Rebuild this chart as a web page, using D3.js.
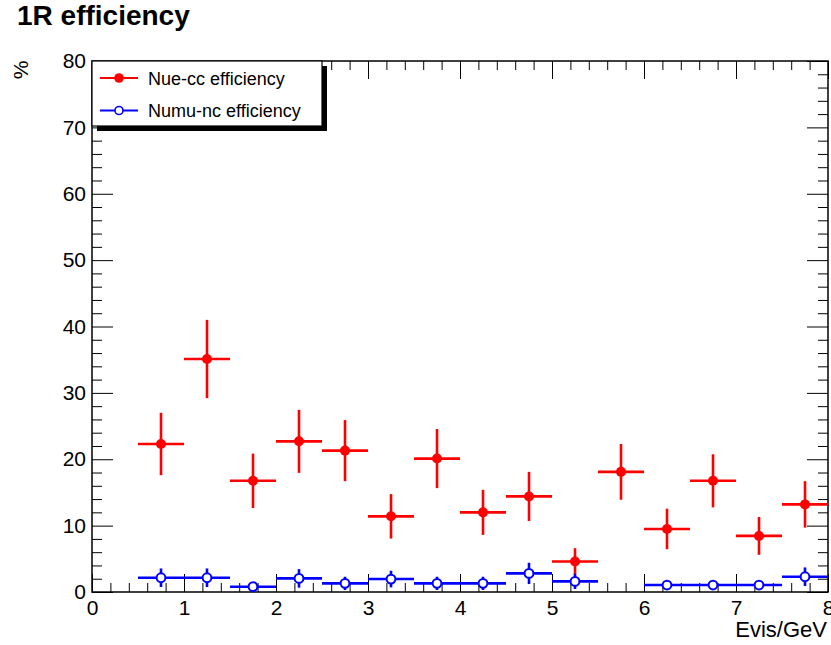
<!DOCTYPE html>
<html>
<head>
<meta charset="utf-8">
<script src="https://cdn.jsdelivr.net/npm/d3@7/dist/d3.min.js"></script>
<style>
  html, body { margin: 0; padding: 0; background: #fff; }
  svg { display: block; font-family: "Liberation Sans", Arial, Helvetica, sans-serif; }
</style>
</head>
<body>
<svg id="chart" width="831" height="645"></svg>
<script>
// ---- data ----
const binCenters = [0.75, 1.25, 1.75, 2.25, 2.75, 3.25, 3.75, 4.25, 4.75, 5.25, 5.75, 6.25, 6.75, 7.25, 7.75];
const binWidth = 0.5;
const nueCC    = [22.3, 35.1, 16.75, 22.7, 21.3, 11.4, 20.1, 12.0, 14.4, 4.6, 18.1, 9.5, 16.75, 8.45, 13.2];
const nueCCErr = [4.7, 5.9, 4.1, 4.75, 4.6, 3.35, 4.45, 3.4, 3.7, 2.0, 4.2, 3.05, 4.0, 2.85, 3.5];
const numuNC    = [2.15, 2.15, 0.8, 2.05, 1.3, 1.95, 1.3, 1.3, 2.8, 1.6, null, 1.05, 1.05, 1.05, 2.3];
const numuNCErr = [1.4, 1.4, 0.5, 1.4, 1.0, 1.25, 1.0, 1.0, 1.6, 1.15, null, 0.6, 0.6, 0.6, 1.4];
const xTicks = [0, 1, 2, 3, 4, 5, 6, 7, 8];
const yTicks = [0, 10, 20, 30, 40, 50, 60, 70, 80];
const seriesNames = ["Nue-cc efficiency", "Numu-nc efficiency"];
const titleText = "1R efficiency";
const xTitle = "Evis/GeV";
const yTitle = "%";

// ---- layout ----
const svg = d3.select("#chart");
const L = 92, R = 828, T = 61, B = 592;
const x = d3.scaleLinear().domain([0, 8]).range([L, R]);
const y = d3.scaleLinear().domain([0, 80]).range([B, T]);
const red = "#ff0000", blue = "#0000ff";

svg.append("rect").attr("width", 831).attr("height", 645).attr("fill", "#fff");

// minor tick values
const xMinor = d3.range(0, 8.0001, 0.2).map(v => +v.toFixed(2)).filter(v => Math.abs(v - Math.round(v)) > 1e-6);
const yMinor = d3.range(0, 80.0001, 2).filter(v => v % 10 !== 0);

function styleAxis(g) {
  g.select(".domain").remove();
  g.selectAll(".tick line").attr("stroke", "#000").attr("stroke-width", 1);
  g.selectAll(".tick text").attr("fill", "#000").attr("font-size", 21)
    .attr("font-family", "Liberation Sans, Arial, sans-serif");
}

// bottom axis (ticks point up)
svg.append("g").attr("transform", `translate(0,${B})`)
  .call(d3.axisBottom(x).tickValues(xTicks).tickFormat(d3.format("d")).tickSize(-18).tickSizeOuter(0).tickPadding(8))
  .call(styleAxis);
svg.append("g").attr("transform", `translate(0,${B})`)
  .call(d3.axisBottom(x).tickValues(xMinor).tickFormat("").tickSize(-9).tickSizeOuter(0))
  .call(styleAxis);
// top axis (ticks point down)
svg.append("g").attr("transform", `translate(0,${T})`)
  .call(d3.axisTop(x).tickValues(xTicks).tickFormat("").tickSize(-18).tickSizeOuter(0))
  .call(styleAxis);
svg.append("g").attr("transform", `translate(0,${T})`)
  .call(d3.axisTop(x).tickValues(xMinor).tickFormat("").tickSize(-9).tickSizeOuter(0))
  .call(styleAxis);
// left axis (ticks point right)
svg.append("g").attr("transform", `translate(${L},0)`)
  .call(d3.axisLeft(y).tickValues(yTicks).tickFormat(d3.format("d")).tickSize(-21).tickSizeOuter(0).tickPadding(6))
  .call(styleAxis);
svg.append("g").attr("transform", `translate(${L},0)`)
  .call(d3.axisLeft(y).tickValues(yMinor).tickFormat("").tickSize(-10).tickSizeOuter(0))
  .call(styleAxis);
// right axis (ticks point left)
svg.append("g").attr("transform", `translate(${R},0)`)
  .call(d3.axisRight(y).tickValues(yTicks).tickFormat("").tickSize(-21).tickSizeOuter(0))
  .call(styleAxis);
svg.append("g").attr("transform", `translate(${R},0)`)
  .call(d3.axisRight(y).tickValues(yMinor).tickFormat("").tickSize(-10).tickSizeOuter(0))
  .call(styleAxis);

// frame
svg.append("rect").attr("x", L).attr("y", T).attr("width", R - L).attr("height", B - T)
  .attr("fill", "none").attr("stroke", "#000").attr("stroke-width", 1.5);

// ---- series drawing ----
function drawSeries(vals, errs, color, filled) {
  const g = svg.append("g");
  const pts = binCenters.map((c, i) => ({ c, v: vals[i], e: errs[i] })).filter(d => d.v != null);
  g.selectAll("line.h").data(pts).join("line")
    .attr("x1", d => x(d.c - binWidth / 2)).attr("x2", d => x(d.c + binWidth / 2))
    .attr("y1", d => y(d.v)).attr("y2", d => y(d.v))
    .attr("stroke", color).attr("stroke-width", 2.6);
  g.selectAll("line.v").data(pts).join("line")
    .attr("x1", d => x(d.c)).attr("x2", d => x(d.c))
    .attr("y1", d => y(d.v + d.e)).attr("y2", d => y(Math.max(0, d.v - d.e)))
    .attr("stroke", color).attr("stroke-width", 2.6);
  g.selectAll("circle").data(pts).join("circle")
    .attr("cx", d => x(d.c)).attr("cy", d => y(d.v))
    .attr("r", filled ? 5 : 4.4)
    .attr("fill", filled ? color : "#fff")
    .attr("stroke", color).attr("stroke-width", filled ? 0 : 2);
}
drawSeries(nueCC, nueCCErr, red, true);
drawSeries(numuNC, numuNCErr, blue, false);

// ---- legend ----
const lg = svg.append("g");
lg.append("rect").attr("x", L + 5).attr("y", T + 5).attr("width", 230).attr("height", 65).attr("fill", "#000");
lg.append("rect").attr("x", L).attr("y", T).attr("width", 230).attr("height", 65)
  .attr("fill", "#fff").attr("stroke", "#000").attr("stroke-width", 1.2);
const legendItems = [
  { name: seriesNames[0], color: red, filled: true, cy: 78 },
  { name: seriesNames[1], color: blue, filled: false, cy: 110.5 }
];
legendItems.forEach(it => {
  lg.append("line").attr("x1", 100).attr("x2", 138).attr("y1", it.cy).attr("y2", it.cy)
    .attr("stroke", it.color).attr("stroke-width", 2.2);
  lg.append("circle").attr("cx", 119).attr("cy", it.cy).attr("r", it.filled ? 4.8 : 4.0)
    .attr("fill", it.filled ? it.color : "#fff").attr("stroke", it.color)
    .attr("stroke-width", it.filled ? 0 : 1.6);
  lg.append("text").attr("x", 148).attr("y", it.cy + 6.5).attr("font-size", 18)
    .attr("fill", "#000").text(it.name);
});

// ---- titles ----
svg.append("text").attr("x", 17).attr("y", 25).attr("font-size", 28).attr("font-weight", "bold")
  .attr("fill", "#000").text(titleText);
svg.append("text").attr("x", 827).attr("y", 637).attr("text-anchor", "end").attr("font-size", 22)
  .attr("fill", "#000").text(xTitle);
svg.append("text").attr("transform", "translate(28,70) rotate(-90)").attr("text-anchor", "middle")
  .attr("font-size", 21).attr("fill", "#000").text(yTitle);
</script>
</body>
</html>
